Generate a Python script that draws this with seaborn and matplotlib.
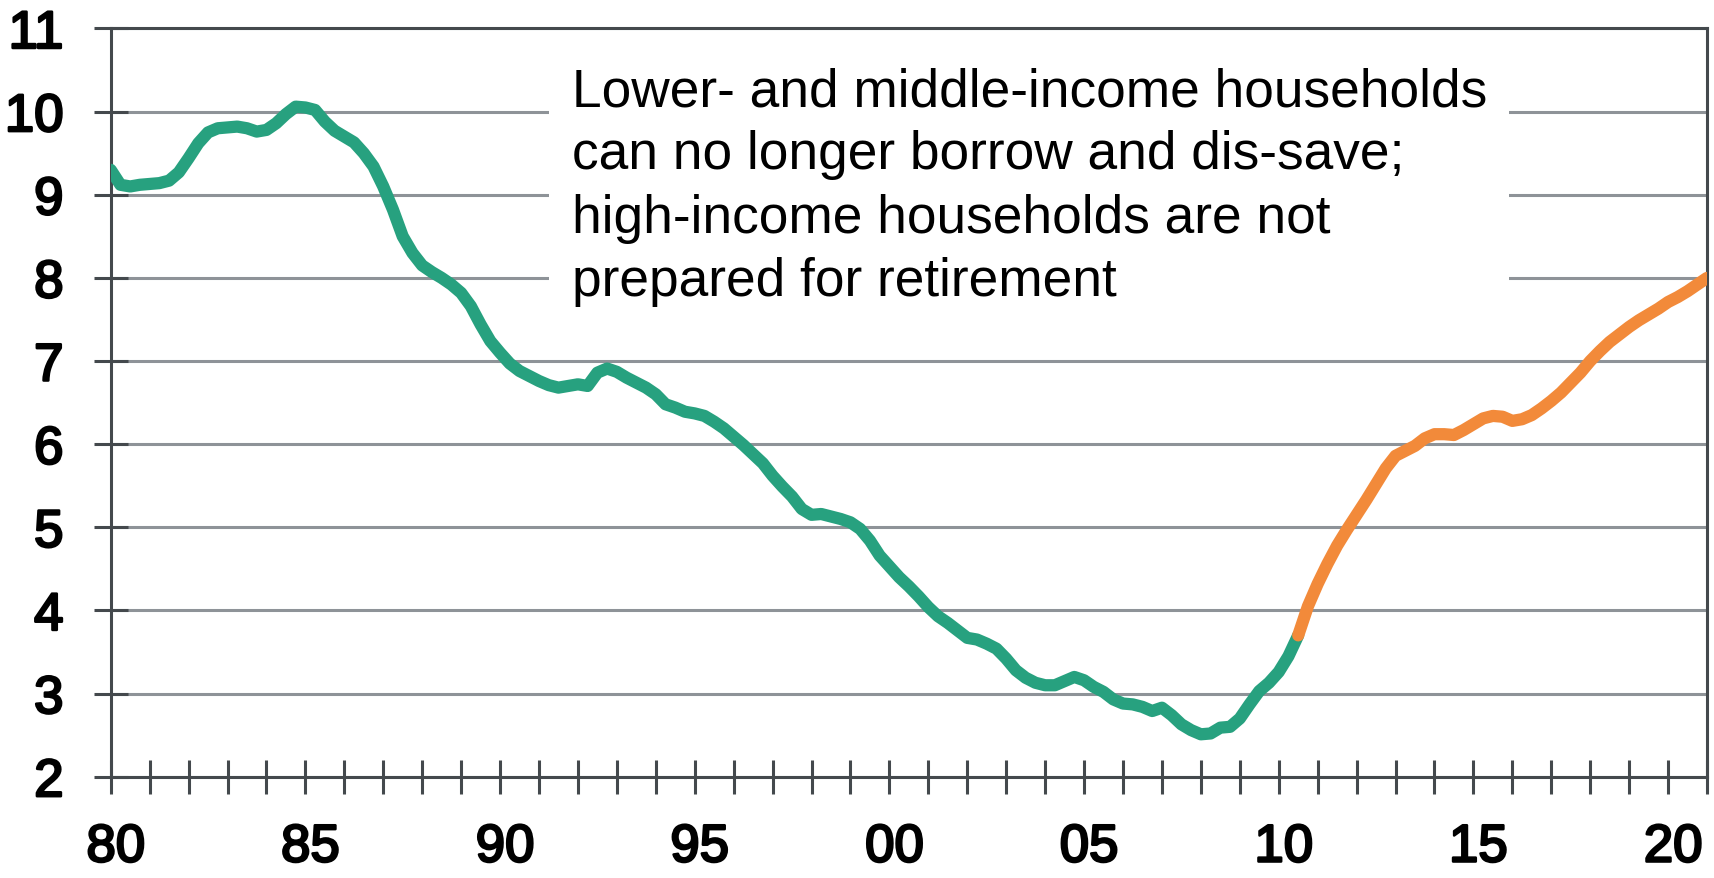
import matplotlib
matplotlib.use('Agg')
import matplotlib.pyplot as plt
import matplotlib.patheffects as pe
import matplotlib.transforms as mtransforms
import numpy as np
import pandas as pd
import seaborn as sns

# quarterly series, 1980Q1 .. 2021Q1 (4 values per line = one year)
quarters = pd.period_range('1980Q1', '2021Q1', freq='Q')
saving_rate = [
    9.30, 9.12, 9.10, 9.12,   # 1980
    9.13, 9.14, 9.17, 9.27,   # 1981
    9.44, 9.62, 9.75, 9.80,   # 1982
    9.81, 9.82, 9.80, 9.76,   # 1983
    9.78, 9.86, 9.97, 10.06,  # 1984
    10.05, 10.02, 9.88, 9.77,  # 1985
    9.70, 9.63, 9.50, 9.34,   # 1986
    9.10, 8.82, 8.50, 8.30,   # 1987
    8.15, 8.07, 8.00, 7.92,   # 1988
    7.82, 7.66, 7.44, 7.24,   # 1989
    7.10, 6.97, 6.88, 6.82,   # 1990
    6.76, 6.71, 6.68, 6.70,   # 1991
    6.72, 6.70, 6.86, 6.91,   # 1992
    6.87, 6.80, 6.74, 6.68,   # 1993
    6.60, 6.48, 6.44, 6.39,   # 1994
    6.37, 6.34, 6.27, 6.19,   # 1995
    6.09, 5.99, 5.88, 5.77,   # 1996
    5.62, 5.49, 5.37, 5.22,   # 1997
    5.15, 5.16, 5.13, 5.10,   # 1998
    5.06, 4.98, 4.84, 4.66,   # 1999
    4.53, 4.40, 4.29, 4.17,   # 2000
    4.04, 3.93, 3.85, 3.76,   # 2001
    3.67, 3.65, 3.60, 3.54,   # 2002
    3.42, 3.28, 3.19, 3.13,   # 2003
    3.10, 3.10, 3.15, 3.20,   # 2004
    3.16, 3.08, 3.02, 2.93,   # 2005
    2.88, 2.87, 2.84, 2.79,   # 2006
    2.83, 2.74, 2.63, 2.56,   # 2007
    2.51, 2.52, 2.59, 2.60,   # 2008
    2.70, 2.87, 3.03, 3.13,   # 2009
    3.26, 3.45, 3.70, 4.05,   # 2010
    4.32, 4.56, 4.78, 4.97,   # 2011
    5.15, 5.33, 5.52, 5.71,   # 2012
    5.86, 5.92, 5.98, 6.07,   # 2013
    6.12, 6.12, 6.11, 6.17,   # 2014
    6.24, 6.31, 6.34, 6.33,   # 2015
    6.28, 6.30, 6.35, 6.43,   # 2016
    6.52, 6.62, 6.74, 6.86,   # 2017
    7.00, 7.12, 7.23, 7.32,   # 2018
    7.41, 7.49, 7.56, 7.63,   # 2019
    7.71, 7.77, 7.84, 7.92,   # 2020
    8.00,                     # 2021
]
last_actual = pd.Period('2010Q3', freq='Q')  # green up to here, orange after

y_ticks = list(range(2, 12))
x_years = list(range(1980, 2022))
x_labels = ['{:02d}'.format(y % 100) if y % 5 == 0 else '' for y in x_years]

note = ('Lower- and middle-income households\n'
        'can no longer borrow and dis-save;\n'
        'high-income households are not\n'
        'prepared for retirement')

green = '#27a17f'
orange = '#f28a3a'
grid_gray = '#8e9398'
dark = '#44494d'

# build dataframe
df = pd.DataFrame({'quarter': quarters, 'value': saving_rate})
df['year'] = df['quarter'].dt.year + (df['quarter'].dt.quarter - 1) / 4
hist = df[df['quarter'] <= last_actual]
proj = df[df['quarter'] >= last_actual]

sns.set_theme(style='white')
plt.rcParams['font.family'] = ['Liberation Sans', 'DejaVu Sans']

fig = plt.figure(figsize=(17.15, 8.79), dpi=100)
ax = fig.add_axes([0.06455, 0.11524, 0.99534 - 0.06455, 0.96644 - 0.11524])

sns.lineplot(data=hist, x='year', y='value', color=green, linewidth=8.8,
             estimator=None, ax=ax, zorder=4)
sns.lineplot(data=proj, x='year', y='value', color=orange, linewidth=8.8,
             estimator=None, ax=ax, zorder=4)

ax.set_xlim(1980, 2021)
ax.set_ylim(2, 11)
ax.set_xlabel('')
ax.set_ylabel('')

# ticks and labels (regular weight, thickened like the original)
ax.set_yticks(y_ticks, labels=[str(t) for t in y_ticks])
ax.set_xticks(x_years, labels=x_labels)
ax.tick_params(axis='both', direction='inout', length=24, width=2.2,
               color=dark, labelsize=38, labelcolor='black')
ax.tick_params(axis='y', pad=22, left=True)
ax.tick_params(axis='x', pad=21, bottom=True)
offset = mtransforms.ScaledTranslation(5 / 100, 0, fig.dpi_scale_trans)
thick = [pe.withStroke(linewidth=1.8, foreground='black')]
for lab in ax.get_xticklabels():
    lab.set_transform(lab.get_transform() + offset)
    lab.set_path_effects(thick)
for lab in ax.get_yticklabels():
    lab.set_path_effects(thick)

# grid and frame
ax.set_axisbelow(True)
ax.yaxis.grid(True, color=grid_gray, linewidth=2.2)
ax.xaxis.grid(False)
for sp in ax.spines.values():
    sp.set_visible(True)
    sp.set_color(dark)
    sp.set_linewidth(2.2)

# annotation with white box over the gridlines (baseline of last line)
ax.text(0.2888, 0.6440, note, transform=ax.transAxes, fontsize=38.3,
        ha='left', va='baseline', color='black', linespacing=1.34,
        bbox=dict(boxstyle='square,pad=0.42', fc='white', ec='none'), zorder=3)

plt.savefig('out.png', dpi=100)
